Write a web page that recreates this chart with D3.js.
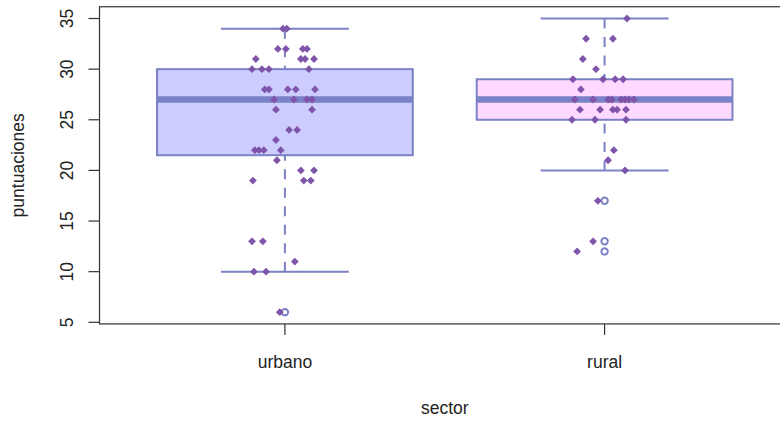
<!DOCTYPE html>
<html>
<head>
<meta charset="utf-8">
<script src="https://cdn.jsdelivr.net/npm/d3@7"></script>
<style>
  html, body { margin: 0; padding: 0; background: #fff; overflow: hidden; }
  svg { display: block; }
  text { font-family: "Liberation Sans", Arial, Helvetica, sans-serif; fill: #222; }
</style>
</head>
<body>
<svg id="chart" width="780" height="421"></svg>
<script>
// Groups (sectors)
const sectors = ["urbano", "rural"];
const boxFills = ["#ccccff", "#ffd9ff"];

// Box statistics per sector: lower whisker, lower hinge, median, upper hinge, upper whisker
const whiskerLow  = [10, 20];
const hingeLow    = [21.5, 25];
const medians     = [27, 27];
const hingeHigh   = [30, 29];
const whiskerHigh = [34, 35];
const outliersUrbano = [6];
const outliersRural  = [17, 13, 12];

// Individual scores with their horizontal jitter (in group units)
const urbanoScores = [34, 34, 32, 32, 32, 32, 31, 31, 31, 31, 30, 30, 30, 30,
  28, 28, 28, 28, 28, 27, 27, 27, 27, 26, 26, 24, 24, 23, 22, 22, 22, 22, 21,
  20, 20, 19, 19, 19, 13, 13, 11, 10, 10, 6];
const urbanoJitter = [-0.006, 0.006, -0.022, 0.003, 0.056, 0.069, -0.091, 0.050, 0.063, 0.091,
  -0.103, -0.072, -0.050, 0.075, -0.063, -0.050, 0.009, 0.034, 0.094, -0.034, 0.028, 0.069, 0.085,
  -0.028, 0.085, 0.013, 0.038, -0.028, -0.094, -0.081, -0.066, -0.013, -0.025,
  0.050, 0.091, -0.100, 0.059, 0.081, -0.103, -0.069, 0.031, -0.097, -0.059, -0.016];
const ruralScores = [35, 33, 33, 31, 30, 29, 29, 29, 29, 28, 27, 27, 27, 27, 27, 27, 27, 27,
  26, 26, 26, 26, 26, 25, 25, 25, 22, 21, 20, 17, 13, 12];
const ruralJitter = [0.070, -0.058, 0.026, -0.068, -0.027, -0.099, -0.005, 0.033, 0.058, -0.074,
  -0.093, -0.036, 0.011, 0.023, 0.051, 0.064, 0.076, 0.092,
  -0.077, -0.014, 0.026, 0.039, 0.067, -0.102, -0.030, 0.067, 0.029, 0.011, 0.064, -0.021, -0.036, -0.086];

// Axis ticks and titles
const yTicks = [5, 10, 15, 20, 25, 30, 35];
const xTitle = "sector";
const yTitle = "puntuaciones";

const svg = d3.select("#chart");
const axisColor = "#333";
const boxColor = "#7b82c5";
const pointColor = "#7e55aa";

// Scales: group positions 1..n, values on y
const x = d3.scaleLinear().domain([0.42, sectors.length + 0.58]).range([99.5, 790]);
const y = d3.scaleLinear().domain([5, 35]).range([322.3, 18.5]);
const frameLeft = x(0.42), frameRight = x(sectors.length + 0.58);
const frameTop = y(36.16), frameBottom = y(4.84);
const boxHalf = 0.4, capHalf = 0.2;

const groups = sectors.map((s, i) => ({
  name: s, pos: i + 1, fill: boxFills[i],
  lo: whiskerLow[i], q1: hingeLow[i], med: medians[i], q3: hingeHigh[i], hi: whiskerHigh[i],
  out: i === 0 ? outliersUrbano : outliersRural
}));

const plot = svg.append("g");

// Boxes
plot.selectAll("rect.box").data(groups).join("rect")
  .attr("class", "box")
  .attr("x", d => x(d.pos - boxHalf))
  .attr("width", d => x(d.pos + boxHalf) - x(d.pos - boxHalf))
  .attr("y", d => y(d.q3))
  .attr("height", d => y(d.q1) - y(d.q3))
  .attr("fill", d => d.fill)
  .attr("stroke", boxColor)
  .attr("stroke-width", 2);

// Medians
plot.selectAll("line.med").data(groups).join("line")
  .attr("class", "med")
  .attr("x1", d => x(d.pos - boxHalf)).attr("x2", d => x(d.pos + boxHalf))
  .attr("y1", d => y(d.med)).attr("y2", d => y(d.med))
  .attr("stroke", boxColor).attr("stroke-width", 6.5);

// Whiskers (dashed, drawn from the whisker end towards the box)
const whiskers = groups.flatMap(d => [
  { pos: d.pos, from: d.lo, to: d.q1 },
  { pos: d.pos, from: d.hi, to: d.q3 }
]);
plot.selectAll("line.whisk").data(whiskers).join("line")
  .attr("class", "whisk")
  .attr("x1", d => x(d.pos)).attr("x2", d => x(d.pos))
  .attr("y1", d => y(d.from)).attr("y2", d => y(d.to))
  .attr("stroke", boxColor).attr("stroke-width", 2)
  .attr("stroke-dasharray", "10,8.5");

// Staples
plot.selectAll("line.cap").data(whiskers).join("line")
  .attr("class", "cap")
  .attr("x1", d => x(d.pos - capHalf)).attr("x2", d => x(d.pos + capHalf))
  .attr("y1", d => y(d.from)).attr("y2", d => y(d.from))
  .attr("stroke", boxColor).attr("stroke-width", 2);

// Outliers
const outs = groups.flatMap(d => d.out.map(v => ({ pos: d.pos, v })));
plot.selectAll("circle.out").data(outs).join("circle")
  .attr("class", "out")
  .attr("cx", d => x(d.pos)).attr("cy", d => y(d.v)).attr("r", 3.2)
  .attr("fill", "none").attr("stroke", boxColor).attr("stroke-width", 2);

// Jittered points (filled diamonds)
const pts = [
  ...urbanoScores.map((v, i) => ({ pos: 1 + urbanoJitter[i], v })),
  ...ruralScores.map((v, i) => ({ pos: 2 + ruralJitter[i], v }))
];
const r = 3.9;
plot.selectAll("path.pt").data(pts).join("path")
  .attr("class", "pt")
  .attr("d", d => {
    const cx = x(d.pos), cy = y(d.v);
    return `M${cx},${cy - r}L${cx + r},${cy}L${cx},${cy + r}L${cx - r},${cy}Z`;
  })
  .attr("fill", pointColor);

// Frame
svg.append("rect")
  .attr("x", frameLeft).attr("y", frameTop)
  .attr("width", frameRight - frameLeft).attr("height", frameBottom - frameTop)
  .attr("fill", "none").attr("stroke", axisColor).attr("stroke-width", 1.2);

// Y axis ticks and labels
const yAxis = svg.append("g");
yAxis.selectAll("line").data(yTicks).join("line")
  .attr("x1", frameLeft - 11).attr("x2", frameLeft)
  .attr("y1", d => y(d)).attr("y2", d => y(d))
  .attr("stroke", axisColor).attr("stroke-width", 1.2);
yAxis.selectAll("text").data(yTicks).join("text")
  .attr("transform", d => `translate(${frameLeft - 27},${y(d)}) rotate(-90)`)
  .attr("text-anchor", "middle")
  .attr("font-size", 17.5)
  .text(d => d);

// X axis ticks and labels
const xAxis = svg.append("g");
xAxis.selectAll("line").data(groups).join("line")
  .attr("x1", d => x(d.pos)).attr("x2", d => x(d.pos))
  .attr("y1", frameBottom).attr("y2", frameBottom + 11)
  .attr("stroke", axisColor).attr("stroke-width", 1.2);
xAxis.selectAll("text").data(groups).join("text")
  .attr("x", d => x(d.pos)).attr("y", 368)
  .attr("text-anchor", "middle")
  .attr("font-size", 17.5)
  .text(d => d.name);

// Axis titles
svg.append("text")
  .attr("x", (frameLeft + frameRight) / 2).attr("y", 414)
  .attr("text-anchor", "middle").attr("font-size", 17.5)
  .text(xTitle);
svg.append("text")
  .attr("transform", `translate(24,${(frameTop + frameBottom) / 2}) rotate(-90)`)
  .attr("text-anchor", "middle").attr("font-size", 17.5)
  .text(yTitle);
</script>
</body>
</html>
